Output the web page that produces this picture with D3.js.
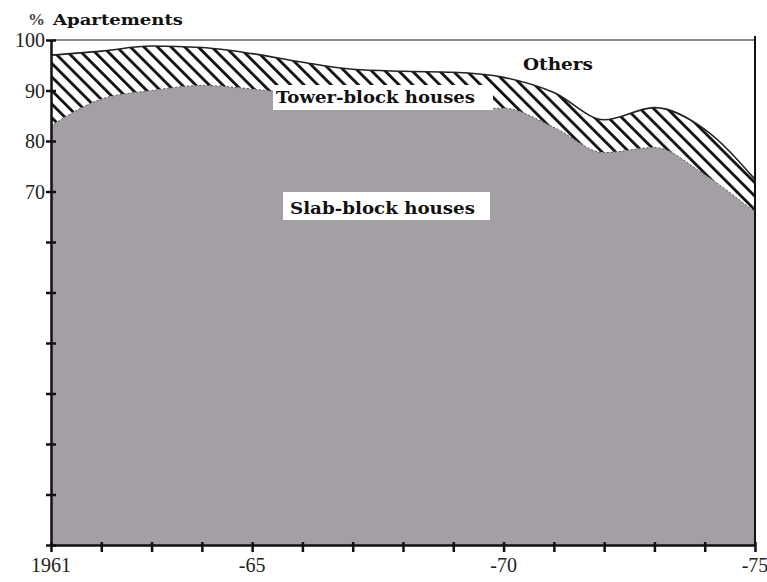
<!DOCTYPE html>
<html><head><meta charset="utf-8">
<script src="https://cdn.jsdelivr.net/npm/d3@7"></script>
<style>html,body{margin:0;padding:0;background:#fff;}svg{display:block;}</style>
</head><body>
<script>
const years = [1961,1962,1963,1964,1965,1966,1967,1968,1969,1970,1971,1972,1973,1974,1975];
// cumulative shares (% of apartments)
const slabBlock = [83.0,88.3,90.0,91.0,90.3,89.0,87.0,86.3,86.3,86.5,82.7,77.7,78.7,73.3,65.9];
const slabPlusTower = [97.0,97.8,98.8,98.5,97.3,95.6,94.2,93.8,93.6,92.6,89.6,84.2,86.6,82.3,72.4];
const yTicks = [0,10,20,30,40,50,60,70,80,90,100];
const yLabelled = [70,80,90,100];
const xLabels = [[1961,"1961"],[1965,"-65"],[1970,"-70"],[1975,"-75"]];

const W=767,H=582;
const svg=d3.select("body").append("svg").attr("width",W).attr("height",H);
const x=d3.scaleLinear().domain([1961,1975]).range([51,755]);
const y=d3.scaleLinear().domain([0,100]).range([545,40]);

const defs=svg.append("defs");
const pat=defs.append("pattern").attr("id","hatch").attr("patternUnits","userSpaceOnUse")
  .attr("width",9.6).attr("height",9.6).attr("patternTransform","rotate(-45)");
pat.append("rect").attr("width",9.6).attr("height",9.6).attr("fill","#fff");
pat.append("rect").attr("x",0).attr("y",0).attr("width",2.8).attr("height",9.6).attr("fill","#111");

const data=years.map((yr,i)=>({yr,s:slabBlock[i],t:slabPlusTower[i]}));
const curve=d3.curveMonotoneX;

// tower-block band (hatched)
svg.append("path").datum(data)
  .attr("d",d3.area().curve(curve).x(d=>x(d.yr)).y0(d=>y(d.s)).y1(d=>y(d.t)))
  .attr("fill","url(#hatch)");
// slab-block (grey)
svg.append("path").datum(data)
  .attr("d",d3.area().curve(curve).x(d=>x(d.yr)).y0(y(0)).y1(d=>y(d.s)))
  .attr("fill","#a49fa4");
// outlines
svg.append("path").datum(data)
  .attr("d",d3.line().curve(curve).x(d=>x(d.yr)).y(d=>y(d.t)))
  .attr("fill","none").attr("stroke","#222").attr("stroke-width",1.6);
svg.append("path").datum(data)
  .attr("d",d3.line().curve(curve).x(d=>x(d.yr)).y(d=>y(d.s)))
  .attr("fill","none").attr("stroke","#555").attr("stroke-width",1).attr("stroke-dasharray","2,2");

// top 100% line and right border
svg.append("line").attr("x1",x(1961)).attr("x2",x(1975)).attr("y1",y(100)).attr("y2",y(100))
  .attr("stroke","#8a8a8a").attr("stroke-width",2);
svg.append("line").attr("x1",x(1975)).attr("x2",x(1975)).attr("y1",y(100)-4).attr("y2",y(0))
  .attr("stroke","#111").attr("stroke-width",2);

// axes
const yAxis=d3.axisLeft(y).tickValues(yTicks).tickSize(0).tickFormat("");
const gy=svg.append("g").attr("transform",`translate(${x(1961)},0)`).call(yAxis);
gy.select(".domain").attr("stroke","#111").attr("stroke-width",2.5);
gy.selectAll(".tick").append("line").attr("x1",-5).attr("x2",5).attr("stroke","#111").attr("stroke-width",2.5);
gy.selectAll(".tick").filter(d=>yLabelled.includes(d)).append("text")
  .attr("x",-6).attr("dy","0.34em").attr("text-anchor","end").attr("fill","#222")
  .style("font-family","'Liberation Serif',serif").style("font-size","20px").text(d=>d);

const xAxis=d3.axisBottom(x).tickValues(years).tickSize(0).tickFormat("");
const gx=svg.append("g").attr("transform",`translate(0,${y(0)})`).call(xAxis);
gx.select(".domain").attr("stroke","#111").attr("stroke-width",2.5);
gx.selectAll(".tick").append("line").attr("y1",-3).attr("y2",7).attr("stroke","#111").attr("stroke-width",2.5);
svg.append("g").selectAll("text").data(xLabels).join("text")
  .attr("x",d=>x(d[0])).attr("y",572).attr("text-anchor","middle").attr("fill","#222")
  .style("font-family","'Liberation Serif',serif").style("font-size","20px").text(d=>d[1]);

// titles / labels
svg.append("text").attr("x",28).attr("y",25).attr("fill","#444")
  .style("font-family","'Liberation Serif',serif").style("font-size","17px").style("font-weight","bold").text("%");
svg.append("text").attr("x",53).attr("y",25).attr("textLength",130).attr("lengthAdjust","spacingAndGlyphs").attr("fill","#111")
  .style("font-family","'DejaVu Serif',serif").style("font-size","15px").style("font-weight","bold").text("Apartements");

svg.append("text").attr("x",523).attr("y",70).attr("textLength",70).attr("lengthAdjust","spacingAndGlyphs").attr("fill","#111")
  .style("font-family","'DejaVu Serif',serif").style("font-size","16px").style("font-weight","bold").text("Others");

svg.append("rect").attr("x",273).attr("y",85).attr("width",220).attr("height",25).attr("fill","#fff");
svg.append("text").attr("x",276).attr("y",103).attr("textLength",199).attr("lengthAdjust","spacingAndGlyphs").attr("fill","#111")
  .style("font-family","'DejaVu Serif',serif").style("font-size","17px").style("font-weight","bold").text("Tower-block houses");

svg.append("rect").attr("x",283).attr("y",192).attr("width",207).attr("height",28).attr("fill","#fff");
svg.append("text").attr("x",290).attr("y",214).attr("textLength",185).attr("lengthAdjust","spacingAndGlyphs").attr("fill","#111")
  .style("font-family","'DejaVu Serif',serif").style("font-size","17px").style("font-weight","bold").text("Slab-block houses");
</script>
</body></html>
